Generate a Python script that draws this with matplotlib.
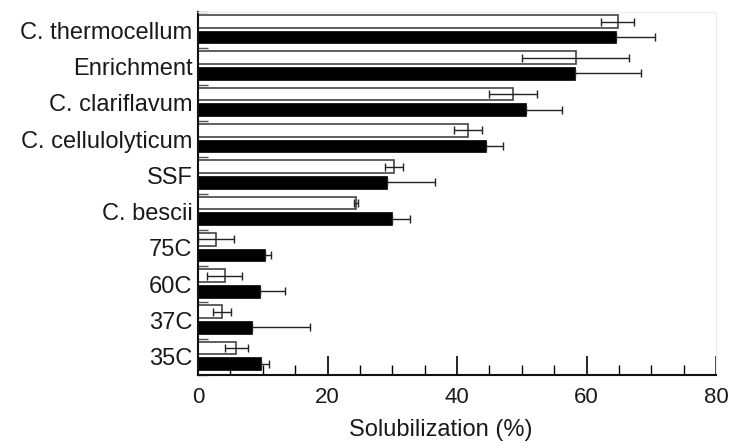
import matplotlib
matplotlib.use("Agg")
import matplotlib.pyplot as plt
import numpy as np

# categories, top to bottom
strains = ["C. thermocellum", "Enrichment", "C. clariflavum", "C. cellulolyticum",
           "SSF", "C. bescii", "75C", "60C", "37C", "35C"]
# open bars (value, error)
open_vals = [64.8, 58.3, 48.7, 41.7, 30.2, 24.4, 2.8, 4.1, 3.7, 5.9]
open_err = [2.5, 8.2, 3.7, 2.2, 1.4, 0.3, 2.8, 2.7, 1.4, 1.8]
# black bars (value, error)
black_vals = [64.6, 58.2, 50.6, 44.5, 29.2, 30.0, 10.3, 9.5, 8.3, 9.7]
black_err = [5.9, 10.2, 5.6, 2.6, 7.4, 2.7, 0.9, 4.0, 9.0, 1.2]

plt.rcParams['font.family'] = ['Liberation Sans', 'DejaVu Sans']

fig = plt.figure(figsize=(7.31, 4.48), dpi=100)
ax = fig.add_axes([0.271, 0.163, 0.7085, 0.81])

pos = np.arange(len(strains))
h = 0.35
ebar = dict(ecolor='#222222', elinewidth=1.0, capsize=3, capthick=1.0)

ax.barh(pos - 0.24, open_vals, height=h, color='white', edgecolor='#444444',
        linewidth=1.2, xerr=open_err, error_kw=ebar, zorder=2)
# lower half of the black bar errors is hidden inside the bar
ax.barh(pos + 0.19, black_vals, height=h, color='black', edgecolor='black',
        linewidth=0.5, xerr=[np.zeros(len(black_err)), black_err], error_kw=ebar, zorder=2)

ax.set_ylim(len(strains) - 0.5, -0.5)
ax.set_xlim(0, 80)

ax.set_yticks(pos)
ax.set_yticklabels(strains, fontsize=17, color='#1a1a1a')
ax.set_yticks(np.arange(len(strains) + 1) - 0.5, minor=True)
ax.tick_params(axis='y', which='major', length=0, pad=4)
ax.tick_params(axis='y', which='minor', direction='in', length=7, width=1, color='#555555')

ax.set_xticks([0, 20, 40, 60, 80])
ax.set_xticks(np.arange(0, 81, 5), minor=True)
ax.tick_params(axis='x', which='major', direction='in', length=14, width=1.2, labelsize=16, pad=9,
               labelcolor='#1a1a1a')
ax.tick_params(axis='x', which='minor', direction='in', length=7, width=1)

ax.set_xlabel("Solubilization (%)", fontsize=17, color='#1a1a1a')
ax.xaxis.set_label_coords(0.469, -0.12)

for s in ['left', 'bottom']:
    ax.spines[s].set_linewidth(1.5)
    ax.spines[s].set_color('#111111')
for s in ['top', 'right']:
    ax.spines[s].set_color('#eeeeee')
    ax.spines[s].set_linewidth(1.0)

fig.savefig("out.png", dpi=100)
